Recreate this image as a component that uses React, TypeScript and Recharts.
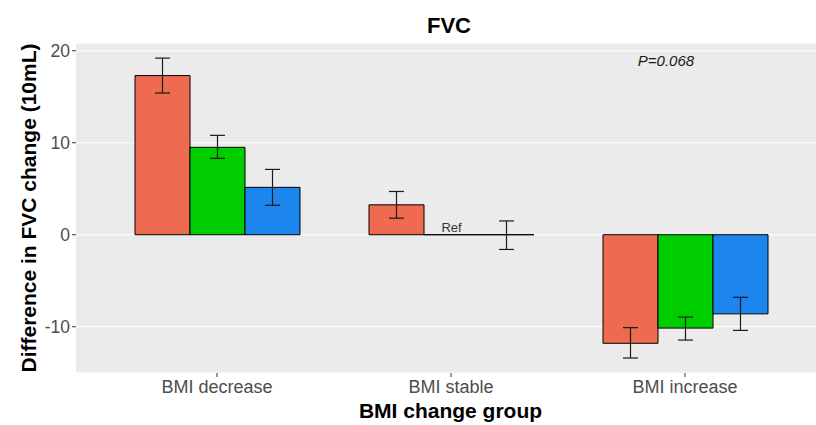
import React from 'react';
import { BarChart, Bar, XAxis, YAxis, CartesianGrid, ErrorBar, LabelList, Label } from 'recharts';

// BMI change groups on the x axis
const groups = ['BMI decrease', 'BMI stable', 'BMI increase'];

// Three FVC-change groups per BMI group: estimate with 95% CI (10 mL units)
const s1Mean = [17.3, 3.25, -11.8];
const s1Low = [15.4, 1.8, -13.4];
const s1High = [19.2, 4.7, -10.1];

const s2Mean = [9.5, 0, -10.15];
const s2Low: (number | null)[] = [8.3, null, -11.45];
const s2High: (number | null)[] = [10.8, null, -8.95];
const s2Tag = ['', 'Ref', ''];

const s3Mean = [5.15, 0, -8.6];
const s3Low = [3.2, -1.6, -10.4];
const s3High = [7.1, 1.5, -6.8];

const yTicks = [-10, 0, 10, 20];
const yDomain: [number, number] = [-15.03, 20.84];

const colors = ['#EE6A50', '#00CD00', '#1C86EE'];
const pText = 'P=0.068';

const err = (m: number, lo: number | null, hi: number | null) =>
  lo == null || hi == null ? undefined : [m - lo, hi - m];

const rows = groups.map((g, i) => ({
  group: g,
  s1: s1Mean[i],
  s1Err: err(s1Mean[i], s1Low[i], s1High[i]),
  s2: s2Mean[i],
  s2Err: err(s2Mean[i], s2Low[i], s2High[i]),
  s2Tag: s2Tag[i],
  s3: s3Mean[i],
  s3Err: err(s3Mean[i], s3Low[i], s3High[i]),
}));

const FONT = '"Liberation Sans", Arial, Helvetica, sans-serif';

// Rectangle drawn as a path so that zero-height bars still show their outline
const BarShape = (props: any) => {
  const { x, y, width, height, fill } = props;
  if ([x, y, width, height].some((v) => v == null || Number.isNaN(+v))) return null;
  const x0 = Math.min(x, x + width);
  const y0 = Math.min(y, y + height);
  const w = Math.abs(width);
  const h = Math.abs(height);
  return (
    <path
      d={`M${x0},${y0}h${w}v${h}h${-w}Z`}
      fill={fill}
      stroke="#000"
      strokeWidth={1}
    />
  );
};

const TagLabel = (props: any) => {
  const { x, y, width, value } = props;
  if (!value) return null;
  return (
    <text
      x={x + width / 2}
      y={y - 2.5}
      textAnchor="middle"
      fontFamily={FONT}
      fontSize={13}
      fill="#333333"
    >
      {value}
    </text>
  );
};

const YTitle = (props: any) => {
  const vb = props.viewBox || {};
  const cy = vb.y + vb.height / 2;
  return (
    <text
      x={36}
      y={cy}
      transform={`rotate(-90 36 ${cy})`}
      textAnchor="middle"
      fontFamily={FONT}
      fontSize={21}
      fontWeight="bold"
      fill="#000"
    >
      Difference in FVC change (10mL)
    </text>
  );
};

const XTitle = (props: any) => {
  const vb = props.viewBox || {};
  return (
    <text
      x={vb.x + vb.width / 2}
      y={vb.y + 45}
      textAnchor="middle"
      fontFamily={FONT}
      fontSize={21}
      fontWeight="bold"
      fill="#000"
    >
      BMI change group
    </text>
  );
};

export default function App() {
  return (
    <div
      style={{
        position: 'fixed',
        left: 0,
        top: 0,
        width: 816,
        height: 425,
        overflow: 'hidden',
        background: '#fff',
      }}
    >
      <BarChart
        width={830}
        height={425}
        data={rows}
        margin={{ top: 43, right: 5, bottom: 0, left: 0 }}
        barCategoryGap={35}
        barGap={0}
      >
        <CartesianGrid fill="#EBEBEB" stroke="#FFFFFF" strokeWidth={1.2} vertical={false} />
        <XAxis
          dataKey="group"
          type="category"
          height={52}
          padding={{ left: 24, right: 23 }}
          axisLine={false}
          tickSize={4}
          tickMargin={3}
          tickLine={{ stroke: '#333333' }}
          tick={{ fontFamily: FONT, fontSize: 18, fill: '#4D4D4D' }}
          interval={0}
        >
          <Label content={<XTitle />} />
        </XAxis>
        <YAxis
          type="number"
          width={76}
          domain={yDomain}
          ticks={yTicks}
          allowDataOverflow
          axisLine={false}
          tickSize={4}
          tickMargin={2}
          tickLine={{ stroke: '#333333' }}
          tick={{ fontFamily: FONT, fontSize: 17.5, fill: '#4D4D4D' }}
        >
          <Label content={<YTitle />} />
        </YAxis>
        <Bar dataKey="s1" fill={colors[0]} shape={<BarShape />} isAnimationActive={false}>
          <ErrorBar dataKey="s1Err" width={7.5} stroke="#1A1A1A" strokeWidth={1.2} />
        </Bar>
        <Bar dataKey="s2" fill={colors[1]} shape={<BarShape />} isAnimationActive={false}>
          <ErrorBar dataKey="s2Err" width={7.5} stroke="#1A1A1A" strokeWidth={1.2} />
          <LabelList dataKey="s2Tag" content={<TagLabel />} />
        </Bar>
        <Bar dataKey="s3" fill={colors[2]} shape={<BarShape />} isAnimationActive={false}>
          <ErrorBar dataKey="s3Err" width={7.5} stroke="#1A1A1A" strokeWidth={1.2} />
        </Bar>
      </BarChart>
      <svg
        width={816}
        height={425}
        style={{ position: 'absolute', left: 0, top: 0, pointerEvents: 'none' }}
      >
        <text
          x={449}
          y={33}
          textAnchor="middle"
          fontFamily={FONT}
          fontSize={22}
          fontWeight="bold"
          fill="#000"
        >
          FVC
        </text>
        <text
          x={666}
          y={66}
          textAnchor="middle"
          fontFamily={FONT}
          fontSize={15}
          fontStyle="italic"
          fill="#1A1A1A"
        >
          {pText}
        </text>
      </svg>
    </div>
  );
}
